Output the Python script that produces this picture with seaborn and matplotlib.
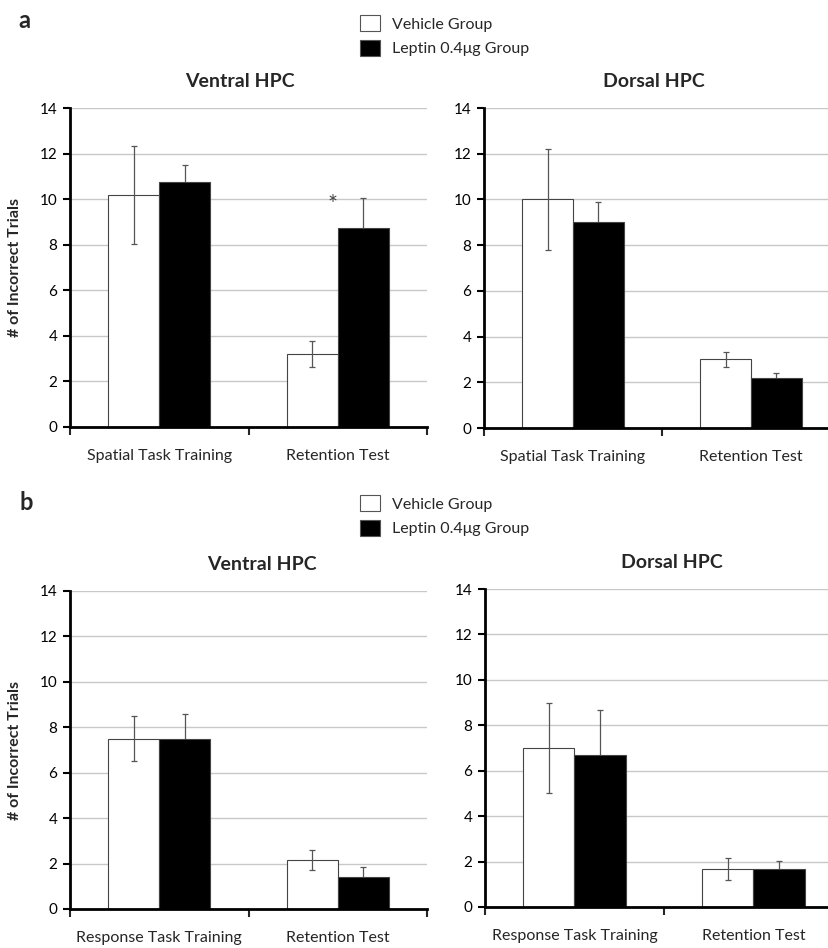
import pandas as pd
import matplotlib.pyplot as plt
import seaborn as sns
from matplotlib.patches import Patch

# data
groups = ['Vehicle Group', 'Leptin 0.4μg Group']
spatial_phases = ['Spatial Task Training', 'Retention Test']
response_phases = ['Response Task Training', 'Retention Test']

a_ventral_means = {'Vehicle Group': [10.2, 3.2], 'Leptin 0.4μg Group': [10.75, 8.75]}
a_ventral_err = {'Vehicle Group': [2.15, 0.58], 'Leptin 0.4μg Group': [0.75, 1.3]}
a_dorsal_means = {'Vehicle Group': [10.0, 3.0], 'Leptin 0.4μg Group': [9.0, 2.2]}
a_dorsal_err = {'Vehicle Group': [2.2, 0.33], 'Leptin 0.4μg Group': [0.9, 0.22]}

b_ventral_means = {'Vehicle Group': [7.5, 2.15], 'Leptin 0.4μg Group': [7.5, 1.4]}
b_ventral_err = {'Vehicle Group': [0.98, 0.43], 'Leptin 0.4μg Group': [1.08, 0.47]}
b_dorsal_means = {'Vehicle Group': [7.0, 1.67], 'Leptin 0.4μg Group': [6.67, 1.67]}
b_dorsal_err = {'Vehicle Group': [1.97, 0.5], 'Leptin 0.4μg Group': [2.0, 0.36]}

colors = {'Vehicle Group': 'white', 'Leptin 0.4μg Group': 'black'}

sns.set_style('white')
plt.rcParams['font.family'] = ['Lato', 'DejaVu Sans']

fig = plt.figure(figsize=(8.29, 9.48), dpi=100)
W, H = 829, 948


def px_axes(x0, x1, top, bottom):
    return fig.add_axes([x0 / W, 1 - bottom / H, (x1 - x0) / W, (bottom - top) / H])


def draw_panel(ax, phases, means, errs, title, title_x, ylabel=True):
    rows = []
    for g in groups:
        for p, m in zip(phases, means[g]):
            rows.append({'phase': p, 'group': g, 'trials': m})
    df = pd.DataFrame(rows)
    sns.barplot(data=df, x='phase', y='trials', hue='group', hue_order=groups,
                palette=colors, edgecolor='#444444', linewidth=0.8,
                width=0.573, errorbar=None, legend=False, ax=ax)
    # error bars; the black bars hide the lower half of their own bars
    for cont, g in zip(ax.containers, groups):
        xs = [b.get_x() + b.get_width() / 2 for b in cont]
        ys = [b.get_height() for b in cont]
        z = 5 if g == 'Vehicle Group' else 0.9
        ax.errorbar(xs, ys, yerr=errs[g], fmt='none', ecolor='#555555',
                    elinewidth=0.9, capsize=2.5, capthick=0.9, zorder=z)
    ax.set_ylim(0, 14)
    ax.set_xlim(-0.5, 1.5)
    ax.set_yticks(range(0, 15, 2))
    ax.yaxis.grid(True, color='#c8c8c8', linewidth=1)
    ax.set_axisbelow(True)
    for s in ['top', 'right']:
        ax.spines[s].set_visible(False)
    for s in ['left', 'bottom']:
        ax.spines[s].set_color('black')
        ax.spines[s].set_linewidth(2)
    ax.tick_params(axis='y', direction='out', length=5, width=1.5, left=True,
                   labelsize=11, pad=4, colors='black')
    ax.tick_params(axis='x', which='major', length=0, labelsize=11.5, pad=16)
    ax.set_xticks([-0.5, 0.5, 1.5], minor=True)
    ax.tick_params(axis='x', which='minor', direction='out', length=6, width=1.5,
                   bottom=True)
    ax.set_xlabel('')
    if ylabel:
        ax.set_ylabel('# of Incorrect Trials', fontsize=11.5, fontweight='bold')
        ax.yaxis.set_label_coords(-0.134, 0.5)
    else:
        ax.set_ylabel('')
    ax.set_title(title, fontsize=14, fontweight='bold', x=title_x, pad=15)


ax1 = px_axes(70, 427, 108, 427)
ax2 = px_axes(484, 840, 108, 428)
ax3 = px_axes(70, 427, 591, 909)
ax4 = px_axes(485, 843, 589, 907)

draw_panel(ax1, spatial_phases, a_ventral_means, a_ventral_err, 'Ventral HPC', 0.476)
draw_panel(ax2, spatial_phases, a_dorsal_means, a_dorsal_err, 'Dorsal HPC', 0.476, ylabel=False)
draw_panel(ax3, response_phases, b_ventral_means, b_ventral_err, 'Ventral HPC', 0.538)
draw_panel(ax4, response_phases, b_dorsal_means, b_dorsal_err, 'Dorsal HPC', 0.522, ylabel=False)

# significance marker
ax1.text(0.97, 9.75, '*', ha='center', va='center', fontsize=17, color='#444444')

handles = [Patch(facecolor=colors[g], edgecolor='#555555', linewidth=0.8, label=g)
           for g in groups]
for ytop in [1, 481]:
    fig.legend(handles=handles, loc='upper left',
               bbox_to_anchor=(346 / W, 1 - ytop / H), frameon=False,
               fontsize=11.5, handlelength=1.25, handleheight=1.15,
               handletextpad=0.75, labelspacing=0.5)

fig.text(18 / W, 1 - 20 / H, 'a', fontsize=17, fontweight='bold', va='center')
fig.text(20 / W, 1 - 502 / H, 'b', fontsize=17, fontweight='bold', va='center')

fig.savefig('out.png', dpi=100, facecolor='white')
